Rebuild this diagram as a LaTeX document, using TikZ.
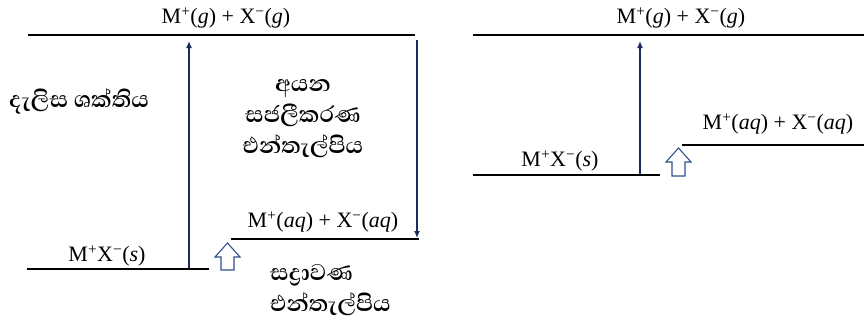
\documentclass[tikz,border=0pt]{standalone}
\usepackage{fontspec}
\usetikzlibrary{arrows.meta}
\setmainfont{Liberation Serif}
\newfontfamily\sinhalafont[Script=Sinhala,BoldFont={* SemiBold}]{Abhaya Libre}
\definecolor{arrowblue}{RGB}{28,42,92}
\definecolor{blockblue}{RGB}{47,80,140}
\begin{document}
\begin{tikzpicture}[x=1pt,y=-1pt,
  level/.style={line width=1.6pt,black},
  energyarrow/.style={line width=1.5pt,arrowblue,-{Latex[length=7pt,width=6pt]}},
  blockarrow/.style={line width=1.1pt,blockblue,fill=white,line join=miter},
  chem/.style={font=\fontsize{22}{24}\selectfont,inner sep=0pt},
  sinlabel/.style={font=\sinhalafont\bfseries\fontsize{29}{31}\selectfont,inner sep=0pt,align=center}]
\useasboundingbox (0,0) rectangle (864,324);
% ---------- left diagram ----------
\coordinate (LtopL) at (28,35);
\coordinate (LtopR) at (415,35);
\coordinate (LsL) at (27,269);
\coordinate (LsR) at (209,269);
\coordinate (LaqL) at (231,239);
\coordinate (LaqR) at (419,239);
\coordinate (LupB) at (189,268);
\coordinate (LupT) at (189,41);
\coordinate (LdnT) at (417,40);
\coordinate (LdnB) at (417,238);
\draw[level] (LtopL) -- (LtopR);
\draw[level] (LsL) -- (LsR);
\draw[level] (LaqL) -- (LaqR);
\draw[energyarrow] (LupB) -- (LupT);
\draw[energyarrow] (LdnT) -- (LdnB);
\node[chem] (Lg) at (226,18) {M\textsuperscript{+}(\textit{g}) + X\textsuperscript{−}(\textit{g})};
\node[chem] (Ls) at (107,256) {M\textsuperscript{+}X\textsuperscript{−}(\textit{s})};
\node[chem] (Laq) at (323,222) {M\textsuperscript{+}(\textit{aq}) + X\textsuperscript{−}(\textit{aq})};
\node[sinlabel] (lat) at (79,101) {දැලිස ශක්තිය};
\node[sinlabel] (hyd) at (303,119) {අයන\\සජලීකරණ\\එන්තැල්පිය};
\node[sinlabel,align=left,anchor=west] (sol) at (270,290) {සද්^^^^200dරාවණ\\එන්තැල්පිය};
\draw[blockarrow] (227.5,243) -- (240,257) -- (234,257) -- (234,270) -- (221,270) -- (221,257) -- (215,257) -- cycle;
% ---------- right diagram ----------
\coordinate (RtopL) at (473,35);
\coordinate (RtopR) at (864,35);
\coordinate (RsL) at (473,175);
\coordinate (RsR) at (660,175);
\coordinate (RaqL) at (682,145);
\coordinate (RaqR) at (864,145);
\coordinate (RupB) at (640,174);
\coordinate (RupT) at (640,41);
\draw[level] (RtopL) -- (RtopR);
\draw[level] (RsL) -- (RsR);
\draw[level] (RaqL) -- (RaqR);
\draw[energyarrow] (RupB) -- (RupT);
\node[chem] (Rg) at (681,18) {M\textsuperscript{+}(\textit{g}) + X\textsuperscript{−}(\textit{g})};
\node[chem] (Rs) at (560,161) {M\textsuperscript{+}X\textsuperscript{−}(\textit{s})};
\node[chem] (Raq) at (778,124) {M\textsuperscript{+}(\textit{aq}) + X\textsuperscript{−}(\textit{aq})};
\draw[blockarrow] (678.5,148) -- (691,162) -- (685,162) -- (685,176) -- (672,176) -- (672,162) -- (666,162) -- cycle;
\end{tikzpicture}
\end{document}
